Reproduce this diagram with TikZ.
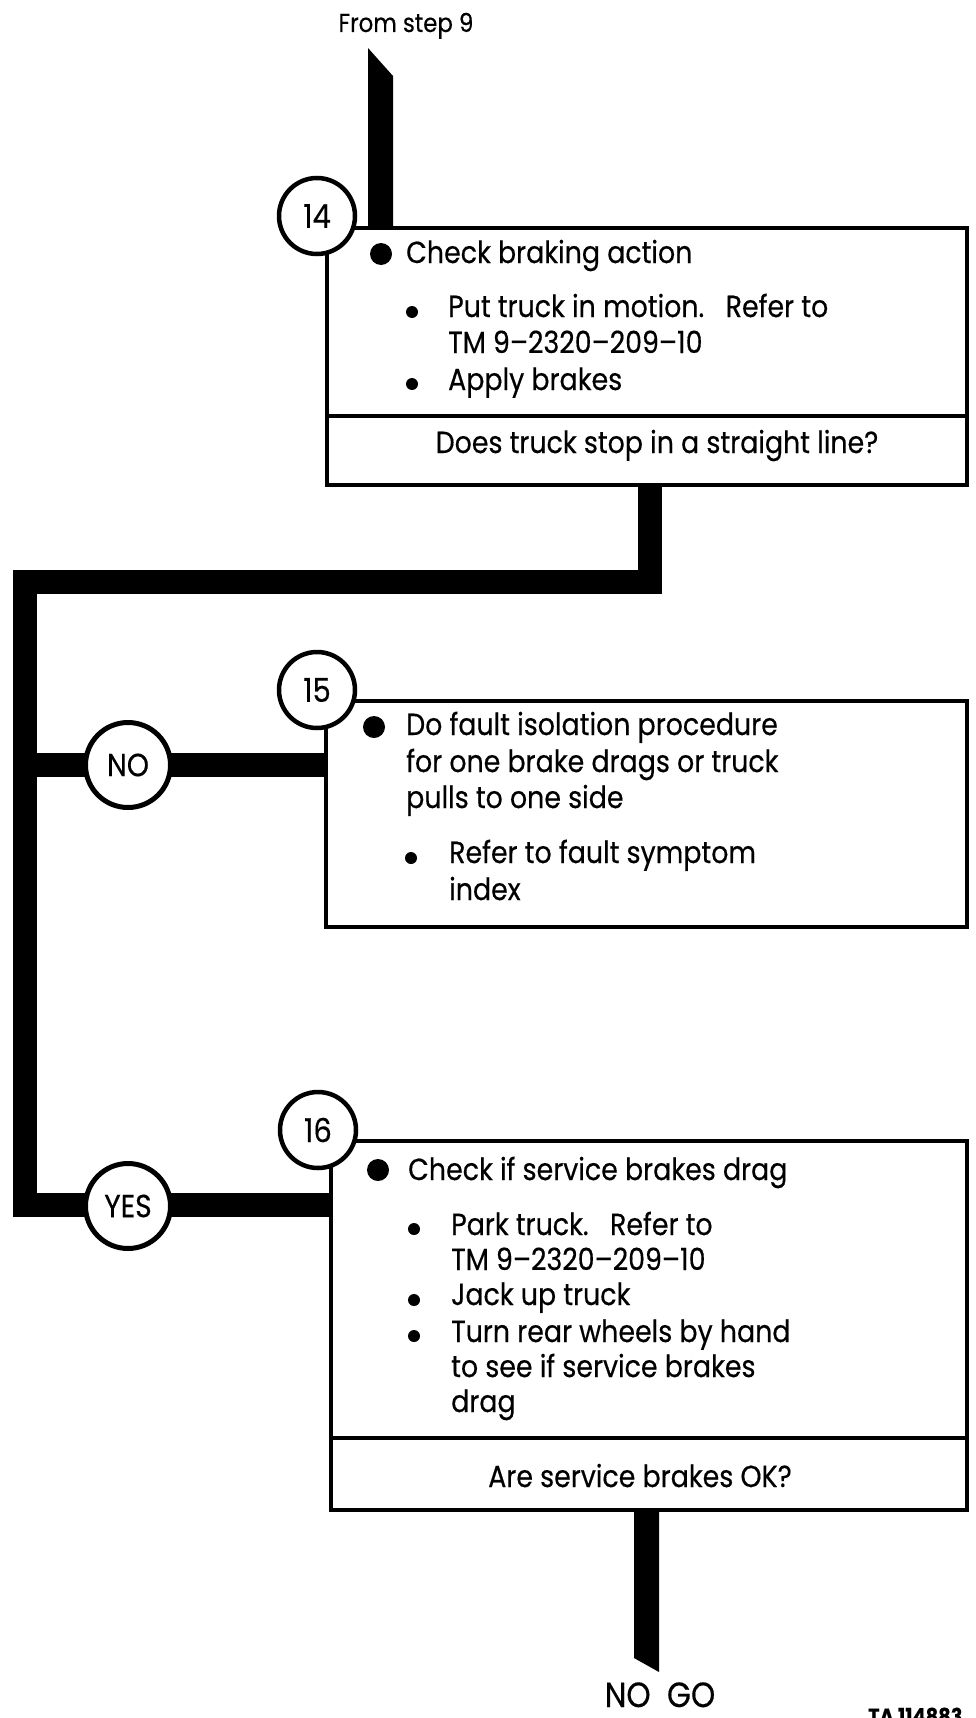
\documentclass[tikz,border=0pt]{standalone}
\usepackage{fontspec}
\setmainfont{Poppins}[FakeStretch=0.88,FakeBold=0.4]
\begin{document}
\begin{tikzpicture}[x=1pt,y=-1pt,
  bar/.style={line width=24pt, line join=miter, line cap=butt},
  box/.style={draw, line width=3.2pt, fill=white, inner sep=0pt},
  boxline/.style={line width=3.2pt},
  stepnum/.style={circle, draw, line width=4.5pt, fill=white, minimum size=76pt, inner sep=0pt, font=\fontsize{33}{33}\selectfont},
  answer/.style={circle, draw, line width=5pt, fill=white, minimum size=85pt, inner sep=0pt, font=\fontsize{32}{32}\selectfont},
  txt/.style={anchor=base west, inner sep=0pt, font=\fontsize{30.5}{34}\selectfont},
  qtxt/.style={anchor=base, inner sep=0pt, font=\fontsize{30.5}{34}\selectfont},
  bigdot/.style={circle, fill, inner sep=0pt, minimum size=22pt},
  smalldot/.style={circle, fill, inner sep=0pt, minimum size=12pt}]
\useasboundingbox (0,0) rectangle (976,1718);

% boxes (positions)
\node[box, minimum width=640pt, minimum height=257pt] (b14) at (647,356.5) {};
\node[box, minimum width=641pt, minimum height=226pt] (b15) at (646.5,814) {};
\node[box, minimum width=636pt, minimum height=369pt] (b16) at (649,1325.5) {};

% connectors
\coordinate (j1) at (650,582);
\coordinate (j2) at (25,582);
\coordinate (j3) at (25,1205);
\coordinate (jn) at (25,765);
\draw[bar] (b14.south -| j1) -- (j1) -- (j2) -- (j3) -- (j3 -| b16.west);
\draw[bar] (jn) -- (jn -| b15.west);

% incoming arrow from step 9
\coordinate (in14) at (380.5,228);
\fill (368,48) -- (393,76) -- (393,228) -- (368,228) -- cycle;
% outgoing arrow to NO GO
\fill (634,1510) -- (659,1510) -- (659,1672) -- (634,1658) -- cycle;

% redraw boxes on top
\node[box, minimum width=640pt, minimum height=257pt] at (647,356.5) {};
\draw[boxline] (327,416) -- (967,416);
\node[box, minimum width=641pt, minimum height=226pt] at (646.5,814) {};
\node[box, minimum width=636pt, minimum height=369pt] at (649,1325.5) {};
\draw[boxline] (331,1438) -- (967,1438);

% step circles
\node[stepnum] (s14) at (317,216) {14};
\node[stepnum] (s15) at (317,690) {15};
\node[stepnum] (s16) at (318,1130) {16};
\node[answer] (no) at (128,765) {NO};
\node[answer] (yes) at (128,1206) {YES};

% box 14 text
\node[bigdot] (d14) at (381,254) {};
\node[txt] (t14a) at (406,263) {Check braking action};
\node[smalldot] (d14b) at (412,312) {};
\node[txt] (t14b) at (448,317) {Put truck in motion.\ \ \ Refer to};
\node[txt] (t14c) at (448,353) {TM 9–2320–209–10};
\node[smalldot] (d14d) at (412,384) {};
\node[txt] (t14d) at (448,390) {Apply brakes};
\node[qtxt] (q14) at (657,453) {Does truck stop in a straight line?};

% box 15 text
\node[bigdot] (d15) at (374,727) {};
\node[txt] (t15a) at (406,735) {Do fault isolation procedure};
\node[txt] (t15b) at (406,772) {for one brake drags or truck};
\node[txt] (t15c) at (406,808) {pulls to one side};
\node[smalldot] (d15d) at (411,858) {};
\node[txt] (t15d) at (449,863) {Refer to fault symptom};
\node[txt] (t15e) at (449,900) {index};

% box 16 text
\node[bigdot] (d16) at (378,1170) {};
\node[txt] (t16a) at (408,1180) {Check if service brakes drag};
\node[smalldot] (d16b) at (414,1229) {};
\node[txt] (t16b) at (451,1235) {Park truck.\ \ \ Refer to};
\node[txt] (t16c) at (451,1270) {TM 9–2320–209–10};
\node[smalldot] (d16d) at (414,1300) {};
\node[txt] (t16d) at (451,1305) {Jack up truck};
\node[smalldot] (d16e) at (414,1336) {};
\node[txt] (t16e) at (451,1342) {Turn rear wheels by hand};
\node[txt] (t16f) at (451,1377) {to see if service brakes};
\node[txt] (t16g) at (451,1412) {drag};
\node[qtxt] (q16) at (640,1487) {Are service brakes OK?};

% labels
\node[anchor=base, inner sep=0pt, font=\fontsize{26}{26}\selectfont] (from) at (406,32) {From step 9};
\node[anchor=base, inner sep=0pt, font=\fontsize{35}{35}\selectfont] (nogo) at (660,1707) {NO\ \ GO};
\node[anchor=base west, inner sep=0pt, font=\fontsize{22}{22}\selectfont\bfseries] (ta) at (868,1724) {TA 114883};
\end{tikzpicture}
\end{document}
